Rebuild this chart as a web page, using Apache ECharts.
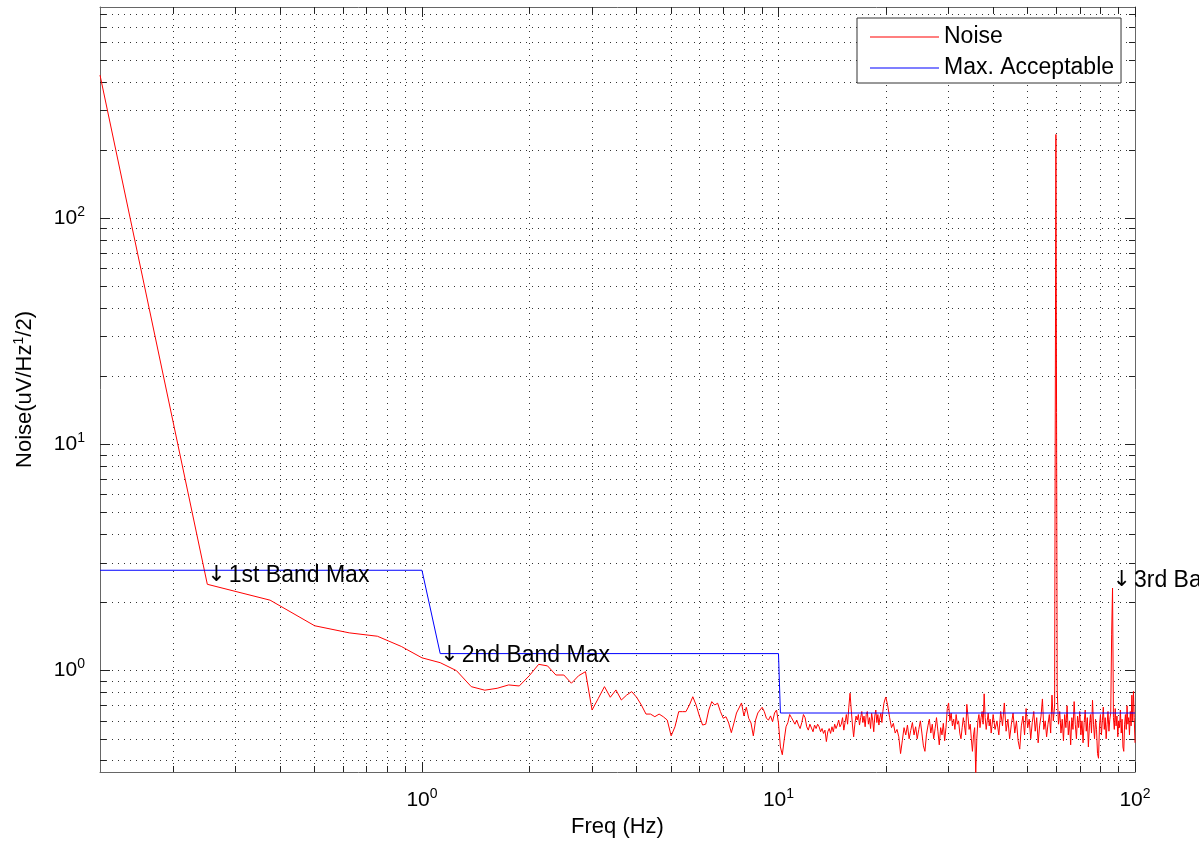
<!DOCTYPE html>
<html><head><meta charset="utf-8">
<script src="https://cdn.jsdelivr.net/npm/echarts@6/dist/echarts.min.js"></script>
<style>html,body{margin:0;padding:0;background:#fff}#c{width:1199px;height:844px}</style>
</head><body><div id="c"></div>
<script>
const FONT = 'Liberation Sans, Arial, Helvetica, sans-serif';

const xMin = 0.125, xMax = 100;
const yMin = 0.3565, yMax = 860;
const xMajorTicks = [1, 10, 100];
const xMajorExp = ['0', '1', '2'];
const xMinorTicks = [0.2,0.3,0.4,0.5,0.6,0.7,0.8,0.9,2,3,4,5,6,7,8,9,20,30,40,50,60,70,80,90];
const yMajorTicks = [1, 10, 100];
const yMajorExp = ['0', '1', '2'];
const yMinorTicks = [0.4,0.5,0.6,0.7,0.8,0.9,2,3,4,5,6,7,8,9,20,30,40,50,60,70,80,90,200,300,400,500,600,700,800];

const noiseLow = [
[0.125,430],[0.25,2.41],[0.375,2.05],[0.5,1.58],[0.625,1.47],[0.75,1.42],[0.875,1.28],[1.0,1.14],
[1.125,1.085],[1.25,1.0],[1.375,0.85],[1.5,0.82],[1.625,0.836],[1.75,0.865],[1.875,0.856],[2.0,0.95],
[2.125,1.067],[2.25,1.05],[2.375,0.957],[2.5,0.957],[2.625,0.88],[2.75,0.95],[2.875,0.99],[3.0,0.67],
[3.125,0.755],[3.25,0.85],[3.375,0.763],[3.5,0.822],[3.625,0.742],[3.75,0.78],[3.875,0.808],[4.0,0.763],
[4.125,0.705],[4.25,0.643],[4.375,0.643],[4.5,0.626],[4.625,0.643],[4.75,0.626],[4.875,0.605],[5.0,0.515],
[5.125,0.565],[5.25,0.659],[5.375,0.659],[5.5,0.659],[5.625,0.705],[5.75,0.767],[5.875,0.705],[6.0,0.631],
[6.125,0.575],[6.25,0.58],[6.375,0.67],[6.5,0.73],[6.625,0.705],[6.75,0.718],[6.875,0.659],[7.0,0.616],
[7.125,0.626],[7.25,0.587],[7.375,0.532],[7.5,0.587],[7.625,0.65],[7.75,0.684],[7.875,0.72],[8.0,0.631],
[8.125,0.689],[8.25,0.616],[8.375,0.587],[8.5,0.515],[8.625,0.605],[8.75,0.65],[8.875,0.67],[9.0,0.689],
[9.125,0.659],[9.25,0.616],[9.375,0.605],[9.5,0.631],[9.625,0.595],[9.75,0.65],[9.875,0.67],[10.0,0.587]
];
const noiseMid = [
[10.125,0.46],[10.25,0.425],[10.375,0.494],[10.5,0.565],[10.625,0.59],[10.75,0.64],[10.875,0.62],[11.0,0.63],
[11.125,0.58],[11.25,0.605],[11.375,0.575],[11.5,0.555],[11.625,0.59],[11.75,0.64],[11.875,0.62],[12.0,0.565],
[12.125,0.546],[12.25,0.58],[12.375,0.57],[12.5,0.537],[12.625,0.575],[12.75,0.555],[12.875,0.58],[13.0,0.565],
[13.125,0.537],[13.25,0.555],[13.375,0.528],[13.5,0.546],[13.625,0.486],[13.75,0.537],[13.875,0.555],[14.0,0.528],
[14.125,0.565],[14.25,0.537],[14.375,0.58],[14.5,0.555],[14.625,0.575],[14.75,0.605],[14.875,0.565],[15.0,0.58],
[15.125,0.62],[15.25,0.546],[15.375,0.59],[15.5,0.64],[15.625,0.58],[15.75,0.69],[15.875,0.795],[16.0,0.67],
[16.125,0.575],[16.25,0.51],[16.375,0.58],[16.5,0.63],[16.625,0.605],[16.75,0.64],[16.875,0.575],[17.0,0.62],
[17.125,0.66],[17.25,0.59],[17.375,0.63],[17.5,0.565],[17.625,0.64],[17.75,0.66],[17.875,0.58],[18.0,0.62],
[18.125,0.555],[18.25,0.648],[18.375,0.605],[18.5,0.537],[18.625,0.63],[18.75,0.67],[18.875,0.59],[19.0,0.64],
[19.125,0.575],[19.25,0.62],[19.375,0.648],[19.5,0.59],[19.625,0.66],[19.75,0.715],[19.875,0.742],[20.0,0.765]
];
const noiseUpper = [
[20.25,0.70],[20.5,0.62],[20.75,0.56],[21.0,0.585],[21.25,0.53],[21.5,0.55],[21.75,0.51],[22.0,0.43],
[22.25,0.49],[22.5,0.56],[22.75,0.52],[23.0,0.575],[23.25,0.50],[23.5,0.545],[23.75,0.59],[24.0,0.52],
[24.25,0.565],[24.5,0.50],[24.75,0.55],[25.0,0.60],[25.25,0.53],[25.5,0.465],[25.75,0.44],[26.0,0.52],
[26.25,0.57],[26.5,0.61],[26.75,0.53],[27.0,0.58],[27.25,0.50],[27.5,0.555],[27.75,0.62],[28.0,0.54],
[28.25,0.47],[28.5,0.56],[28.75,0.52],[29.0,0.585],[29.25,0.49],[29.5,0.56],[29.75,0.68],[30.0,0.72],
[30.25,0.60],[30.5,0.65],[30.75,0.57],[31.0,0.61],[31.25,0.55],[31.5,0.64],[31.75,0.58],[32.0,0.60],
[32.25,0.53],[32.5,0.50],[32.75,0.56],[33.0,0.62],[33.25,0.57],[33.5,0.52],[33.75,0.71],[34.0,0.63],
[34.25,0.55],[34.5,0.58],[34.75,0.50],[35.0,0.44],[35.25,0.52],[35.5,0.56],[35.75,0.35],[36.0,0.50],
[36.25,0.60],[36.5,0.64],[36.75,0.56],[37.0,0.62],[37.25,0.66],[37.5,0.58],[37.75,0.79],[38.0,0.62],
[38.25,0.55],[38.5,0.60],[38.75,0.65],[39.0,0.57],[39.25,0.61],[39.5,0.53],[39.75,0.58],[40.0,0.64]
];
const noiseTop = [
[40.5,0.55],[41,0.60],[41.5,0.52],[42,0.66],[42.5,0.57],[43,0.72],[43.5,0.54],[44,0.61],[44.5,0.50],[45,0.58],
[45.5,0.65],[46,0.53],[46.5,0.60],[47,0.49],[47.5,0.45],[48,0.57],[48.5,0.63],[49,0.52],[49.5,0.68],[50,0.56],
[50.5,0.61],[51,0.50],[51.5,0.59],[52,0.66],[52.5,0.54],[53,0.62],[53.5,0.48],[54,0.57],[54.5,0.63],[55,0.75],
[55.5,0.55],[56,0.60],[56.5,0.51],[57,0.58],[57.5,0.64],[58,0.53],[58.5,0.78],[59,0.60],[59.5,0.70],[60,235],
[60.5,0.82],[61,0.58],[61.5,0.66],[62,0.53],[62.5,0.61],[63,0.49],[63.5,0.64],[64,0.56],[64.5,0.70],[65,0.52],
[65.5,0.60],[66,0.47],[66.5,0.62],[67,0.55],[67.5,0.73],[68,0.58],[68.5,0.50],[69,0.63],[69.5,0.56],[70,0.66],
[70.5,0.52],[71,0.60],[71.5,0.48],[72,0.59],[72.5,0.67],[73,0.54],[73.5,0.62],[74,0.46],[74.5,0.57],[75,0.64],
[75.5,0.53],[76,0.74],[76.5,0.58],[77,0.50],[77.5,0.61],[78,0.55],[78.5,0.43],[79,0.41],[79.5,0.57],[80,0.64],
[80.5,0.52],[81,0.60],[81.5,0.69],[82,0.55],[82.5,0.62],[83,0.50],[83.5,0.58],[84,0.66],[84.5,0.54],[85,0.61],
[85.5,0.65],[86,1.45],[86.5,2.32],[87,0.62],[87.5,0.55],[88,0.68],[88.5,0.57],[89,0.63],[89.5,0.51],[90,0.60],
[90.5,0.56],[91,0.67],[91.5,0.53],[92,0.61],[92.5,0.46],[93,0.44],[93.5,0.58],[94,0.64],[94.5,0.55],[95,0.70],
[95.5,0.58],[96,0.62],[96.5,0.52],[97,0.66],[97.5,0.57],[98,0.78],[98.5,0.60],[99,0.81],[99.5,0.62],[100,0.48]
];
const maxAcceptable = [[0.125,2.78],[1.0,2.78],[1.125,1.19],[10.0,1.19],[10.125,0.65],[100,0.65]];
const annotationText = ['1st Band Max', '2nd Band Max', '3rd Band Max'];
const annotationF = [0.25, 1.125, 86.5];
const annotationV = [2.64, 1.164, 2.5];

const noiseData = noiseLow.concat(noiseMid, noiseUpper, noiseTop);

function supFormatter(ticks, exps) {
  return function (v) {
    for (let i = 0; i < ticks.length; i++) {
      if (Math.abs(ticks[i] - v) / ticks[i] < 1e-6) return '{b|10}{s|' + exps[i] + '}';
    }
    return '';
  };
}
const labelRich = {
  b: { fontFamily: FONT, fontSize: 21, color: '#000' },
  s: { fontFamily: FONT, fontSize: 14, color: '#000', padding: [0, 0, 13, 0] }
};
const gridLine = { show: true, lineStyle: { color: '#333', width: 1, type: [1, 5] } };
const axLine = { show: true, onZero: false, lineStyle: { color: '#666', width: 1 } };
const tickStyle = { color: '#222', width: 1 };

function makeAxis(pos, min, max, ticks, len, opts) {
  return Object.assign({
    type: 'log', logBase: 10, position: pos, min: min, max: max, gridIndex: 0,
    axisLine: axLine,
    axisTick: { show: true, inside: true, length: len, customValues: ticks, lineStyle: tickStyle },
    axisLabel: { show: false },
    splitLine: { show: false },
    minorTick: { show: false }, minorSplitLine: { show: false }
  }, opts || {});
}

const chart = echarts.init(document.getElementById('c'), null, { renderer: 'canvas' });
chart.setOption({
  animation: false,
  backgroundColor: '#fff',
  grid: { left: 100, top: 7, width: 1035, height: 765, containLabel: false },
  xAxis: [
    makeAxis('bottom', xMin, xMax, xMajorTicks, 10, {
      axisLabel: { show: true, customValues: xMajorTicks, formatter: supFormatter(xMajorTicks, xMajorExp), rich: labelRich, margin: 15 },
      splitLine: gridLine,
      name: 'Freq (Hz)', nameLocation: 'middle', nameGap: 39,
      nameTextStyle: { fontFamily: FONT, fontSize: 22, color: '#000' }
    }),
    makeAxis('bottom', xMin, xMax, xMinorTicks, 6, { splitLine: gridLine, axisLine: { show: false } }),
    makeAxis('top', xMin, xMax, xMajorTicks, 10),
    makeAxis('top', xMin, xMax, xMinorTicks, 6, { axisLine: { show: false } })
  ],
  yAxis: [
    makeAxis('left', yMin, yMax, yMajorTicks, 10, {
      axisLabel: { show: true, customValues: yMajorTicks, formatter: supFormatter(yMajorTicks, yMajorExp), rich: labelRich, margin: 15 },
      splitLine: gridLine,
      name: '{a|Noise(uV/Hz}{s|1}{a|/2)}', nameLocation: 'middle', nameGap: 62,
      nameTextStyle: { rich: {
        a: { fontFamily: FONT, fontSize: 22, color: '#000' },
        s: { fontFamily: FONT, fontSize: 14, color: '#000', padding: [0, 0, 12, 0] }
      } }
    }),
    makeAxis('left', yMin, yMax, yMinorTicks, 6, { splitLine: gridLine, axisLine: { show: false } }),
    makeAxis('right', yMin, yMax, yMajorTicks, 10),
    makeAxis('right', yMin, yMax, yMinorTicks, 6, { axisLine: { show: false } })
  ],
  legend: {
    data: ['Noise', 'Max. Acceptable'], orient: 'vertical', left: 857, top: 18,
    icon: 'rect', itemWidth: 69, itemHeight: 1, itemGap: 7, padding: [7, 7, 3, 13],
    backgroundColor: '#fff', borderColor: '#333', borderWidth: 1, borderRadius: 0,
    selectedMode: false,
    textStyle: { fontFamily: FONT, fontSize: 23, color: '#000', lineHeight: 24 }
  },
  series: [
    {
      name: 'Noise', type: 'line', xAxisIndex: 0, yAxisIndex: 0, data: noiseData,
      symbol: 'none', showSymbol: false, color: '#ff0000', itemStyle: { color: '#ff0000' },
      lineStyle: { color: '#ff0000', width: 1 }, clip: true, z: 3
    },
    {
      name: 'Max. Acceptable', type: 'line', xAxisIndex: 0, yAxisIndex: 0, data: maxAcceptable,
      symbol: 'none', showSymbol: false, color: '#0000ff', itemStyle: { color: '#0000ff' },
      lineStyle: { color: '#0000ff', width: 1 }, clip: true, z: 4,
      markPoint: {
        symbol: 'circle', symbolSize: 0, silent: true, animation: false,
        label: {
          show: true, position: 'right', distance: 0,
          formatter: function (p) { return '{ar|\u2193}{t|' + p.name + '}'; },
          rich: {
            ar: { fontFamily: 'DejaVu Sans', fontSize: 22, color: '#000', padding: [0, 3, 0, 0] },
            t: { fontFamily: FONT, fontSize: 23, color: '#000' }
          }
        },
        data: annotationText.map(function (t, i) { return { name: t, coord: [annotationF[i], annotationV[i]] }; })
      }
    }
  ]
});
</script>
</body></html>
